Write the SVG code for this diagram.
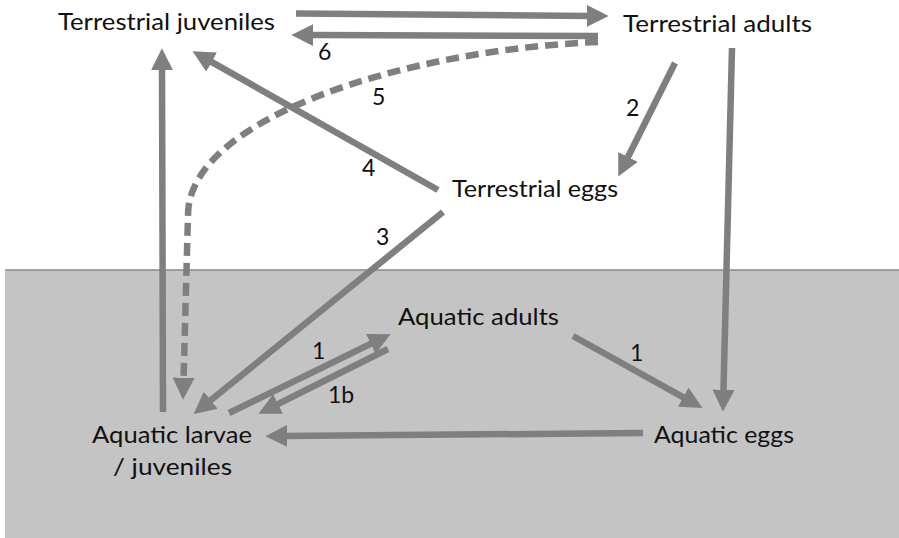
<svg xmlns="http://www.w3.org/2000/svg" width="899" height="538" viewBox="0 0 899 538">
<style>
.lbl{font-family:Lato,"Open Sans","Liberation Sans",sans-serif;font-size:24px;fill:#111}
.num{font-family:Lato,"Open Sans","Liberation Sans",sans-serif;font-size:23px;fill:#111}
.arr{fill:none;stroke:#7f7f7f;stroke-width:6.5;stroke-linecap:butt;marker-end:url(#ah)}
.dash{stroke-dasharray:13 7}
</style>
<defs>
<marker id="ah" markerUnits="userSpaceOnUse" markerWidth="22" markerHeight="22" viewBox="0 0 20 20" refX="3" refY="10" orient="auto">
<path d="M0,0 L20,10 L0,20 z" fill="#7f7f7f"/>
</marker>
</defs>
<rect id="water" x="5" y="270" width="894" height="268" fill="#c4c4c4"/>
<line x1="5" y1="270" x2="899" y2="270" stroke="#8a8a8a" stroke-width="1.5"/>
<g id="connectors">
<line class="arr" x1="296" y1="13.5" x2="590" y2="15.9"/>
<line class="arr" x1="598" y1="36" x2="310" y2="35"/>
<path class="arr dash" d="M598,42 C400,50 188,120 188,215 L183.5,381"/>
<line class="arr" x1="438" y1="190" x2="208.8" y2="60.4"/>
<line class="arr" x1="163" y1="412" x2="162" y2="67"/>
<line class="arr" x1="443" y1="212" x2="208.2" y2="402.3"/>
<line class="arr" x1="675" y1="63" x2="626.6" y2="159.8"/>
<line class="arr" x1="732" y1="48" x2="723.4" y2="393"/>
<line class="arr" x1="229" y1="413" x2="373.7" y2="342.4"/>
<line class="arr" x1="388" y1="349" x2="275.2" y2="405.4"/>
<line class="arr" x1="573" y1="336" x2="686.1" y2="398.8"/>
<line class="arr" x1="643" y1="433" x2="284" y2="436"/>
</g>
<g id="edge-labels">
<text class="num" x="318" y="60">6</text>
<text class="num" x="372" y="105">5</text>
<text class="num" x="362" y="176">4</text>
<text class="num" x="376" y="245">3</text>
<text class="num" x="626" y="116">2</text>
<text class="num" x="312" y="359">1</text>
<text class="num" x="328" y="403">1b</text>
<text class="num" x="630" y="361">1</text>
</g>
<g id="terrestrial-juveniles"><text class="lbl" x="58" y="30" textLength="217" lengthAdjust="spacingAndGlyphs">Terrestrial juveniles</text></g>
<g id="terrestrial-adults"><text class="lbl" x="623" y="32" textLength="189" lengthAdjust="spacingAndGlyphs">Terrestrial adults</text></g>
<g id="terrestrial-eggs"><text class="lbl" x="452" y="197" textLength="166" lengthAdjust="spacingAndGlyphs">Terrestrial eggs</text></g>
<g id="aquatic-adults"><text class="lbl" x="398" y="325" textLength="161" lengthAdjust="spacingAndGlyphs">Aquatic adults</text></g>
<g id="aquatic-eggs"><text class="lbl" x="654" y="443" textLength="140" lengthAdjust="spacingAndGlyphs">Aquatic eggs</text></g>
<g id="aquatic-larvae"><text class="lbl" x="92" y="443" textLength="160" lengthAdjust="spacingAndGlyphs">Aquatic larvae</text><text class="lbl" x="113" y="475" textLength="119" lengthAdjust="spacingAndGlyphs">/ juveniles</text></g>
</svg>
